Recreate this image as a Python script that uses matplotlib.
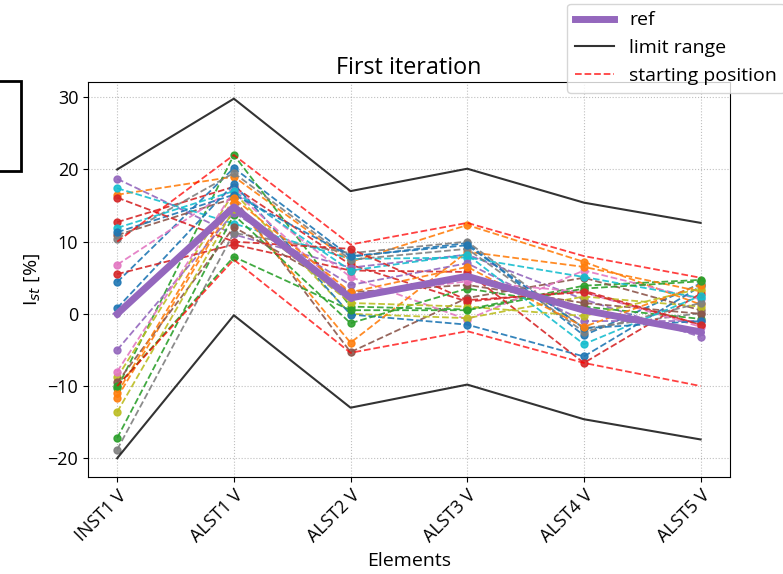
import matplotlib
matplotlib.use("Agg")
import matplotlib.pyplot as plt
from matplotlib.patches import Rectangle

plt.rcParams['font.family'] = ['Open Sans', 'DejaVu Sans']
plt.rc('font', size=14)
plt.rc('xtick', labelsize=13)
plt.rc('ytick', labelsize=13)

elements = ['INST1 V', 'ALST1 V', 'ALST2 V', 'ALST3 V', 'ALST4 V', 'ALST5 V']

ref = [0.0, 14.8, 2.2, 5.2, 0.5, -2.5]
limit_upper = [20.0, 29.8, 17.0, 20.1, 15.4, 12.6]
limit_lower = [-20.0, -0.2, -13.0, -9.8, -14.6, -17.4]
start_upper = [10.0, 22.0, 9.6, 12.6, 8.0, 5.0]
start_lower = [-10.0, 7.5, -5.4, -2.4, -6.8, -10.0]

# iterations (one row per run)
runs = [
    [4.4, 20.2, 7.9, 9.8, -3.0, 4.2],
    [16.5, 19.0, 7.2, 12.3, 7.2, 1.3],
    [-10.3, 22.0, 1.0, 0.6, 3.9, 4.7],
    [12.7, 17.6, 6.8, 1.7, 3.2, -1.5],
    [18.7, 11.0, 6.4, 8.2, 2.0, -3.2],
    [10.9, 16.0, -5.3, 2.2, 5.0, 0.5],
    [6.8, 17.4, 5.1, -0.8, 6.0, 2.0],
    [-18.8, 11.2, 8.4, 10.0, -2.0, 0.1],
    [-8.8, 16.8, 0.0, -0.6, 2.4, 1.0],
    [17.4, 12.5, 7.6, 7.8, 5.1, 2.2],
    [0.8, 18.0, -0.1, -1.5, -5.9, 3.8],
    [-11.6, 15.4, -4.0, 8.6, 6.5, 3.1],
    [-17.2, 13.7, -1.3, 3.5, 1.0, -0.7],
    [5.5, 9.6, 6.0, 5.8, -6.8, 2.8],
    [-5.0, 14.0, 4.0, 7.0, -1.0, -1.0],
    [-9.5, 12.0, 3.0, 4.0, 1.5, 0.0],
    [-8.0, 17.0, 2.5, 4.5, 3.0, -1.8],
    [10.4, 19.5, 7.5, 9.0, -2.5, 1.5],
    [-13.6, 14.5, 1.5, 1.0, -0.3, 3.5],
    [11.9, 17.0, 6.0, 8.2, -4.2, 2.5],
    [11.3, 16.5, 8.0, 9.5, -2.0, -1.0],
    [-11.0, 16.0, 3.0, 6.5, -1.8, 4.0],
    [-10.0, 7.9, 0.5, 0.5, 3.5, 4.5],
    [16.1, 10.0, 9.0, 1.9, 3.0, -1.5],
]

fig = plt.figure(figsize=(7.83, 5.74), dpi=100)
ax = fig.add_axes([0.1124, 0.169, 0.8196, 0.688])

for r in runs:
    ax.plot(elements, r, '--o', markersize=5, linewidth=1.3, alpha=0.9)

ax.plot(elements, limit_upper, '-', color='black', alpha=0.8, linewidth=1.5, label='limit range')
ax.plot(elements, limit_lower, '-', color='black', alpha=0.8, linewidth=1.5)
ax.plot(elements, start_upper, '--', color='red', alpha=0.75, linewidth=1.3, label='starting position')
ax.plot(elements, start_lower, '--', color='red', alpha=0.75, linewidth=1.3)
ax.plot(elements, ref, '-o', color='#9467bd', linewidth=5, markersize=4, label='ref')

ax.set_ylim(-22.6, 32.1)
ax.set_title('First iteration')
ax.set_xlabel('Elements')
ax.set_ylabel('I$_{st}$ [%]')
ax.grid(True, linestyle=':', color='gray', alpha=0.5)
plt.setp(ax.get_xticklabels(), rotation=45, ha='right', rotation_mode='anchor')

handles, labels = ax.get_legend_handles_labels()
order = [2, 0, 1]
fig.legend([handles[i] for i in order], [labels[i] for i in order],
           loc='upper right', bbox_to_anchor=(1.01, 1.004), borderaxespad=0.3)

fig.patches.append(Rectangle((-0.05, 1 - 171 / 574), 0.05 + 21 / 783, 90 / 574,
                             transform=fig.transFigure, fill=False,
                             edgecolor='black', linewidth=2, figure=fig))

fig.savefig('out.png', dpi=100)
